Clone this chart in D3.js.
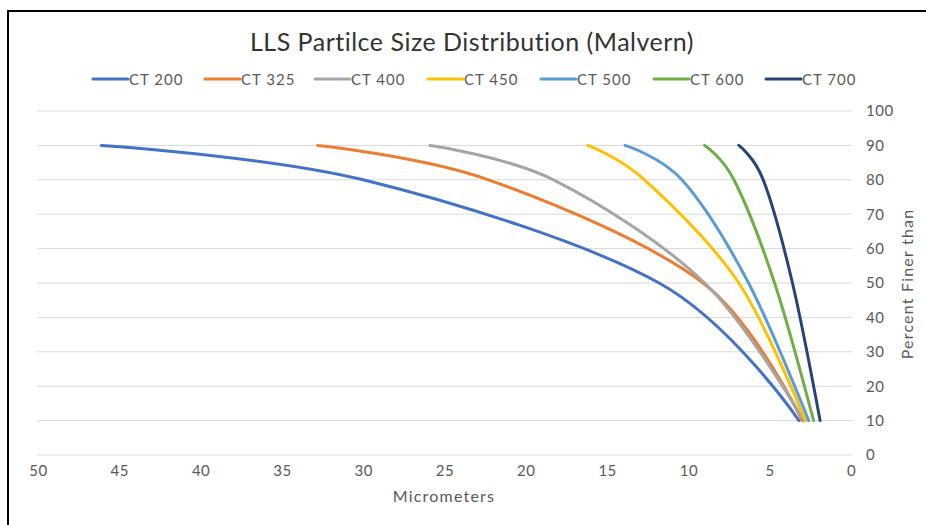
<!DOCTYPE html>
<html><head><meta charset="utf-8">
<script src="https://cdn.jsdelivr.net/npm/d3@7"></script>
<style>
body{margin:0;background:#fff;}
svg{display:block;font-family:Lato,"Open Sans",sans-serif;}
</style></head>
<body><svg id="c" width="926" height="525"></svg>
<script>
const title = "LLS Partilce Size Distribution (Malvern)";
const percents = [10, 50, 80, 90];
const seriesNames = ["CT 200","CT 325","CT 400","CT 450","CT 500","CT 600","CT 700"];
const colors = ["#4472C4","#ED7D31","#A5A5A5","#FFC000","#5B9BD5","#70AD47","#264478"];
const ct200 = [3.2, 11.8, 30.0, 46.1];
const ct325 = [3.0, 9.1, 22.3, 32.8];
const ct400 = [2.9, 9.0, 18.3, 25.9];
const ct450 = [2.8, 6.9, 12.7, 16.2];
const ct500 = [2.6, 6.3, 10.4, 13.9];
const ct600 = [2.3, 4.7, 7.2, 9.0];
const ct700 = [1.9, 3.6, 5.4, 6.9];
const seriesValues = [ct200, ct325, ct400, ct450, ct500, ct600, ct700];
const xTicks = [50,45,40,35,30,25,20,15,10,5,0];
const yTicks = [0,10,20,30,40,50,60,70,80,90,100];
const xTitle = "Micrometers";
const yTitle = "Percent Finer than";

const svg = d3.select("#c");
svg.append("rect").attr("x",8).attr("y",11).attr("width",940).attr("height",540)
  .attr("fill","none").attr("stroke","#000").attr("stroke-width",2);

const x = d3.scaleLinear().domain([50,0]).range([38,851]);
const y = d3.scaleLinear().domain([0,100]).range([455,111]);

svg.append("g").selectAll("line").data(yTicks).join("line")
  .attr("x1",37).attr("x2",852)
  .attr("y1",d=>y(d)).attr("y2",d=>y(d))
  .attr("stroke","#d9d9d9").attr("stroke-width",1);

const yAxis = d3.axisRight(y).tickValues(yTicks).tickSize(0).tickPadding(0);
const gy = svg.append("g").attr("transform","translate(866,0)").call(yAxis);
gy.select(".domain").remove();
gy.selectAll("text").attr("font-size",15).attr("fill","#595959").attr("font-family","Lato,sans-serif")
  .attr("letter-spacing","0.5px");

const xAxis = d3.axisBottom(x).tickValues(xTicks).tickSize(0).tickPadding(0);
const gx = svg.append("g").attr("transform","translate(0,465)").call(xAxis);
gx.select(".domain").remove();
gx.selectAll("text").attr("font-size",15).attr("fill","#595959").attr("font-family","Lato,sans-serif")
  .attr("letter-spacing","0.5px");

const line = d3.line().x(d=>x(d[0])).y(d=>y(d[1])).curve(d3.curveCatmullRom.alpha(0));
seriesValues.forEach((vals,i)=>{
  const pts = vals.map((v,j)=>[v, percents[j]]);
  svg.append("path").attr("d", line(pts)).attr("fill","none")
    .attr("stroke",colors[i]).attr("stroke-width",3).attr("stroke-linecap","round");
});

svg.append("text").attr("x",472).attr("y",51).attr("text-anchor","middle")
  .attr("font-size",25).attr("letter-spacing","0.5px").attr("fill","#333").text(title);

const legendX = [93,205,315,428,541,654,766];
seriesNames.forEach((n,i)=>{
  const g = svg.append("g").attr("transform",`translate(${legendX[i]},79)`);
  g.append("line").attr("x1",0).attr("x2",35).attr("y1",0).attr("y2",0)
    .attr("stroke",colors[i]).attr("stroke-width",3).attr("stroke-linecap","round");
  g.append("text").attr("x",36).attr("y",5.5).attr("font-size",15).attr("letter-spacing","1px")
    .attr("fill","#595959").text(n);
});

svg.append("text").attr("x",444).attr("y",502).attr("text-anchor","middle")
  .attr("font-size",16).attr("letter-spacing","1.2px").attr("fill","#595959").text(xTitle);
svg.append("text").attr("transform","translate(913,284) rotate(-90)").attr("text-anchor","middle")
  .attr("font-size",16).attr("letter-spacing","1.2px").attr("fill","#595959").text(yTitle);
</script></body></html>
